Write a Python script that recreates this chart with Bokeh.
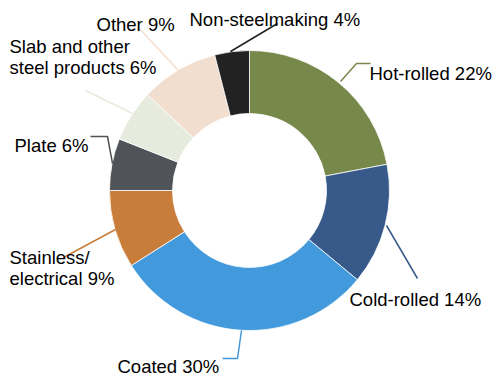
from bokeh.plotting import figure
from bokeh.models import Range1d
from bokeh.embed import file_html
from bokeh.resources import INLINE
from bokeh.core.properties import value
import math

categories = ["Hot-rolled", "Cold-rolled", "Coated", "Stainless/electrical", "Plate",
              "Slab and other steel products", "Other", "Non-steelmaking"]
shares = [22, 14, 30, 9, 6, 6, 9, 4]
label_lines = [["Hot-rolled 22%"], ["Cold-rolled 14%"], ["Coated 30%"],
               ["Stainless/", "electrical 9%"], ["Plate 6%"],
               ["Slab and other", "steel products 6%"], ["Other 9%"], ["Non-steelmaking 4%"]]
colors = ["#77884B", "#375A8A", "#4299DC", "#C97D3A", "#505358", "#E6EBDD", "#F2DECF", "#222222"]

# layout (screen pixels of the 500x380 page)
W, H = 500, 380
CX, CY = 249, 190
R_OUT, R_IN = 140, 77
label_pos = [(369, 73), (349, 299), (117, 366), (9, 278), (14, 145), (9, 67), (96, 24), (189, 19)]
line_gap = 21
leaders = [
    [(340, 81), (356, 63), (370, 63)],
    [(386, 225), (417, 278)],
    [(241, 330), (237, 358), (222, 358)],
    [(115, 229), (63, 257)],
    [(112, 163), (107, 136), (90, 136)],
    [(132, 113), (85, 90)],
    [(178, 70), (138, 27)],
    [(230, 51), (277, 23)],
]

def fy(y):
    return H - y

p = figure(width=W, height=H, output_backend="svg", toolbar_location=None,
           x_range=Range1d(0, W), y_range=Range1d(0, H), min_border=0)
p.axis.visible = False
p.grid.visible = False
p.outline_line_color = None
p.background_fill_color = "white"

total = float(sum(shares))
starts, ends = [], []
cum = 0.0
for s in shares:
    starts.append(math.pi / 2 - 2 * math.pi * cum / total)
    cum += s
    ends.append(math.pi / 2 - 2 * math.pi * cum / total)

p.annular_wedge(x=CX, y=fy(CY), inner_radius=R_IN, outer_radius=R_OUT,
                start_angle=starts, end_angle=ends, direction="clock",
                fill_color=colors, line_color="white", line_width=0.8)

for pts, c in zip(leaders, colors):
    p.line([q[0] for q in pts], [fy(q[1]) for q in pts], line_color=c, line_width=1.5)

for lines, (x, y) in zip(label_lines, label_pos):
    n = len(lines)
    for i, t in enumerate(lines):
        yy = y - (n - 1 - i) * line_gap
        p.text(x=[x], y=[fy(yy)], text=[t], text_font=value("Liberation Sans"),
               text_font_size="18.5px", text_color="#000000", text_baseline="alphabetic",
               text_align="left")

open("out.html", "w").write(file_html(p, INLINE))
